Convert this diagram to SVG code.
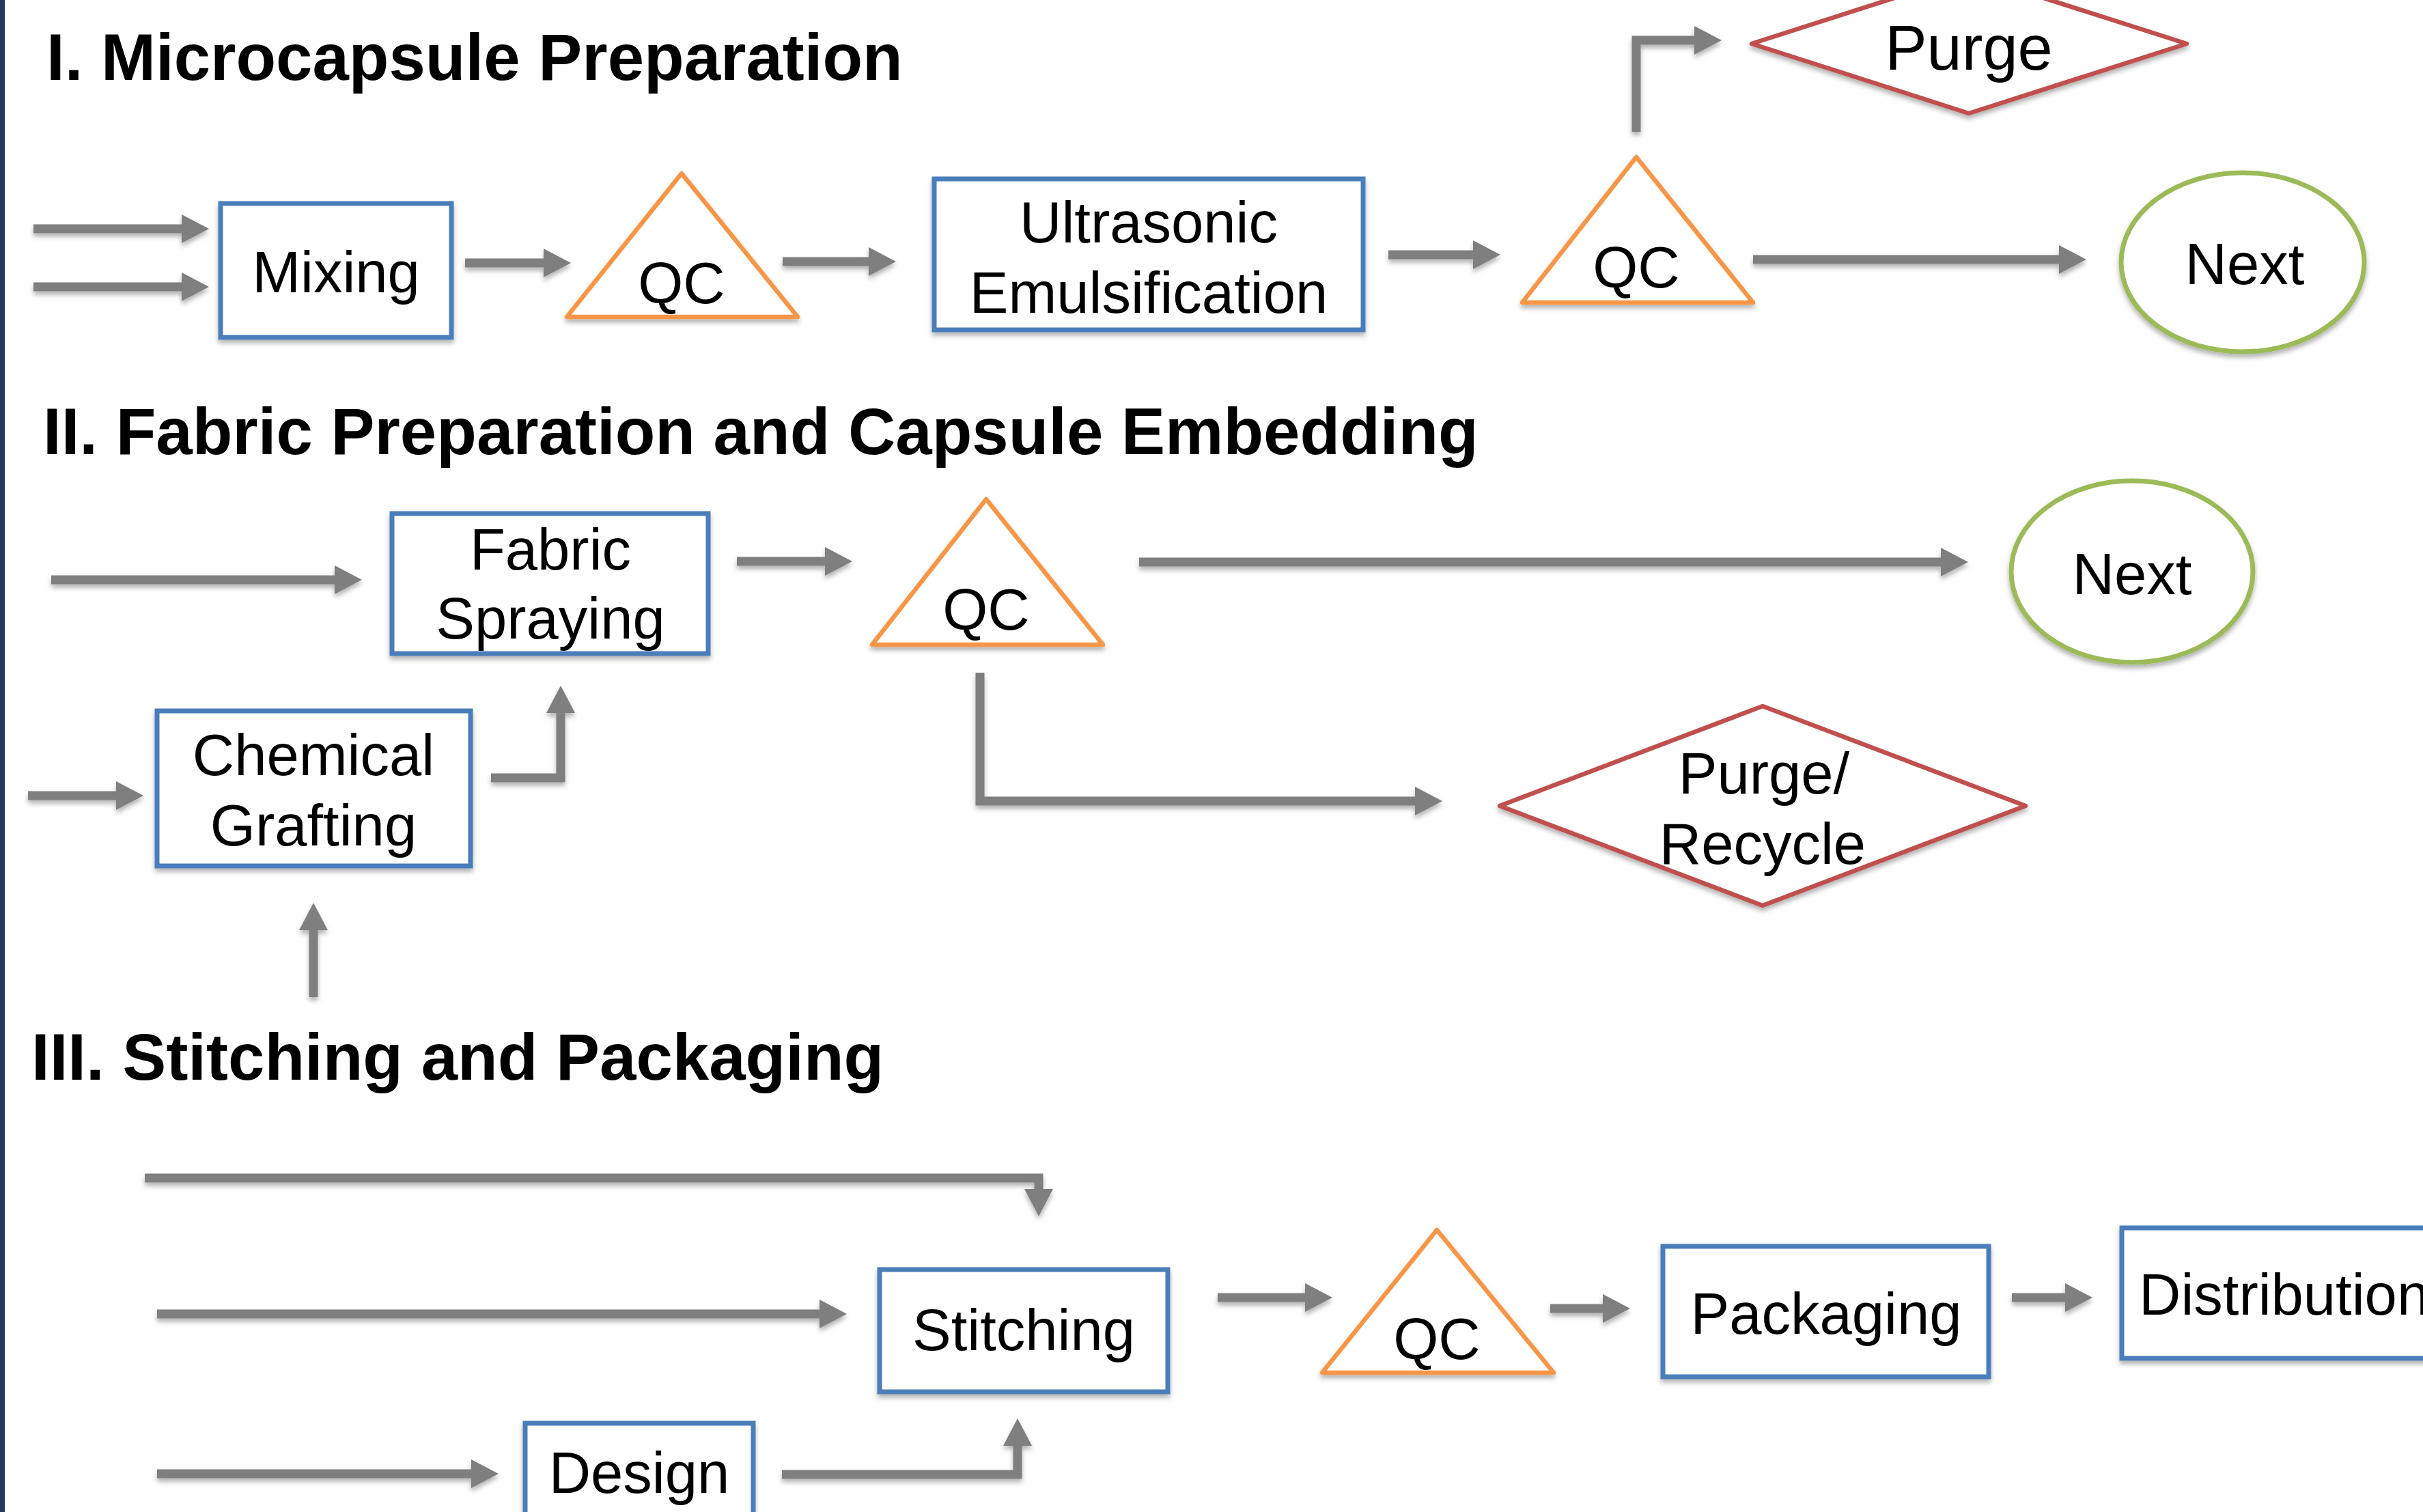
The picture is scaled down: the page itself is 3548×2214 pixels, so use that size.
<svg xmlns="http://www.w3.org/2000/svg" width="3548" height="2214" viewBox="0 0 3548 2214">
<defs>
<style>
.title{font-family:"Liberation Sans",Arial,sans-serif;font-weight:bold;font-size:96px;fill:#000}
.lbl{font-family:"Liberation Sans",Arial,sans-serif;font-size:85px;fill:#000;text-anchor:middle}
.box{fill:#fff;stroke:#4A7EBB;stroke-width:7}
.qc{fill:#fff;stroke:#F79646;stroke-width:6.5;stroke-linejoin:round}
.dia{fill:#fff;stroke:#C0504D;stroke-width:6.5;stroke-linejoin:round}
.ell{fill:#fff;stroke:#9BBB59;stroke-width:7}
.con{fill:none;stroke:#7F7F7F;stroke-width:13;marker-end:url(#ah)}
</style>
<marker id="ah" viewBox="0 0 40 42" markerWidth="40" markerHeight="42" refX="0" refY="21" orient="auto" markerUnits="userSpaceOnUse">
<path d="M0,0 L40,21 L0,42 z" fill="#7F7F7F"/>
</marker>
<filter id="sh" filterUnits="userSpaceOnUse" x="0" y="-100" width="3548" height="2414">
<feDropShadow dx="0" dy="5" stdDeviation="3.5" flood-color="#000" flood-opacity="0.3"/>
</filter>
</defs>
<rect x="0" y="0" width="3548" height="2214" fill="#fff"/>
<rect x="0" y="0" width="7" height="2214" fill="#203864"/>

<g id="titles">
<text class="title" x="68" y="117">I. Microcapsule Preparation</text>
<text class="title" x="63" y="665">II. Fabric Preparation and Capsule Embedding</text>
<text class="title" x="46" y="1581">III. Stitching and Packaging</text>
</g>

<g id="connectors" filter="url(#sh)">
<line class="con" x1="49" y1="335" x2="266" y2="335"/>
<line class="con" x1="49" y1="420" x2="266" y2="420"/>
<line class="con" x1="681" y1="385" x2="796" y2="385"/>
<line class="con" x1="1146" y1="383" x2="1272" y2="383"/>
<line class="con" x1="2033" y1="373" x2="2157" y2="373"/>
<polyline class="con" points="2396,193 2396,59 2481,59"/>
<line class="con" x1="2567" y1="380" x2="3015" y2="380"/>
<line class="con" x1="75" y1="849" x2="490" y2="849"/>
<line class="con" x1="1079" y1="822" x2="1208" y2="822"/>
<line class="con" x1="1668" y1="823" x2="2842" y2="823"/>
<polyline class="con" points="1435,985 1435,1173 2072,1173"/>
<line class="con" x1="41" y1="1165" x2="170" y2="1165"/>
<polyline class="con" points="719,1139 821,1139 821,1044"/>
<line class="con" x1="459" y1="1460" x2="459" y2="1362"/>
<polyline class="con" points="212,1725 1521,1725 1521,1741"/>
<line class="con" x1="230" y1="1924" x2="1200" y2="1924"/>
<line class="con" x1="230" y1="2158" x2="690" y2="2158"/>
<polyline class="con" points="1145,2159 1490,2159 1490,2117"/>
<line class="con" x1="1783" y1="1900" x2="1911" y2="1900"/>
<line class="con" x1="2270" y1="1916" x2="2347" y2="1916"/>
<line class="con" x1="2946" y1="1900" x2="3024" y2="1900"/>
</g>

<g id="mixing" filter="url(#sh)">
<rect class="box" x="323" y="298" width="338" height="196"/>
<text class="lbl" x="492" y="428">Mixing</text>
</g>
<g id="qc1" filter="url(#sh)">
<polygon class="qc" points="998,254 830,464 1168,464"/>
<text class="lbl" x="998" y="444">QC</text>
</g>
<g id="ultrasonic" filter="url(#sh)">
<rect class="box" x="1368" y="262" width="628" height="221"/>
<text class="lbl" x="1682" y="355">Ultrasonic</text>
<text class="lbl" x="1682" y="458">Emulsification</text>
</g>
<g id="qc2" filter="url(#sh)">
<polygon class="qc" points="2396,230 2229,443 2567,443"/>
<text class="lbl" x="2396" y="421">QC</text>
</g>
<g id="purge" filter="url(#sh)">
<polygon class="dia" points="2565,64 2883,-38 3202,64 2883,166"/>
<text class="lbl" x="2883" y="102" style="font-size:92px">Purge</text>
</g>
<g id="next1" filter="url(#sh)">
<ellipse class="ell" cx="3284" cy="384" rx="178" ry="131"/>
<text class="lbl" x="3287" y="416">Next</text>
</g>

<g id="fabric" filter="url(#sh)">
<rect class="box" x="574" y="752" width="463" height="205"/>
<text class="lbl" x="806" y="834">Fabric</text>
<text class="lbl" x="806" y="935">Spraying</text>
</g>
<g id="qc3" filter="url(#sh)">
<polygon class="qc" points="1444,731 1277,944 1615,944"/>
<text class="lbl" x="1444" y="922">QC</text>
</g>
<g id="next2" filter="url(#sh)">
<ellipse class="ell" cx="3122" cy="837" rx="177" ry="133"/>
<text class="lbl" x="3122" y="870">Next</text>
</g>
<g id="purge-recycle" filter="url(#sh)">
<polygon class="dia" points="2196,1180 2581,1034 2966,1180 2581,1326"/>
<text class="lbl" x="2583" y="1162">Purge/</text>
<text class="lbl" x="2581" y="1265">Recycle</text>
</g>
<g id="chemical" filter="url(#sh)">
<rect class="box" x="230" y="1041" width="459" height="227"/>
<text class="lbl" x="459" y="1135">Chemical</text>
<text class="lbl" x="459" y="1238">Grafting</text>
</g>

<g id="stitching" filter="url(#sh)">
<rect class="box" x="1288" y="1859" width="422" height="179"/>
<text class="lbl" x="1499" y="1977">Stitching</text>
</g>
<g id="design" filter="url(#sh)">
<rect class="box" x="769" y="2084" width="334" height="200"/>
<text class="lbl" x="936" y="2186">Design</text>
</g>
<g id="qc4" filter="url(#sh)">
<polygon class="qc" points="2104,1801 1936,2010 2275,2010"/>
<text class="lbl" x="2104" y="1990">QC</text>
</g>
<g id="packaging" filter="url(#sh)">
<rect class="box" x="2435" y="1825" width="477" height="191"/>
<text class="lbl" x="2674" y="1953">Packaging</text>
</g>
<g id="distribution" filter="url(#sh)">
<rect class="box" x="3107" y="1798" width="500" height="191"/>
<text class="lbl" x="3132" y="1925" style="text-anchor:start">Distribution</text>
</g>
</svg>
